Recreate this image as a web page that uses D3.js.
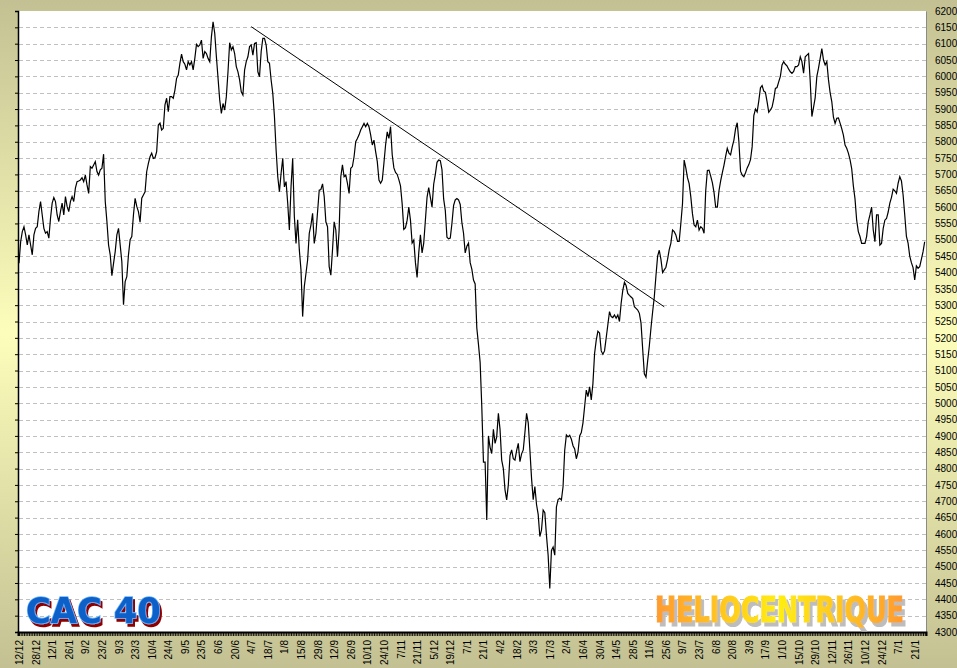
<!DOCTYPE html>
<html><head><meta charset="utf-8">
<script src="https://cdn.jsdelivr.net/npm/d3@7"></script>
<style>html,body{margin:0;padding:0;overflow:hidden;background:#c3c193}svg{display:block}</style>
</head><body>
<svg id="chart" width="957" height="668"></svg>
<script>
// ---- DATA ----
const dateLabels = ["12/12","28/12","12/1","26/1","9/2","23/2","9/3","23/3","10/4","24/4",
  "9/5","23/5","6/6","20/6","4/7","18/7","1/8","15/8","29/8","12/9",
  "26/9","10/10","24/10","7/11","21/11","5/12","19/12","7/1","21/1","4/2",
  "18/2","3/3","17/3","2/4","16/4","30/4","14/5","28/5","11/6","25/6",
  "9/7","23/7","6/8","20/8","3/9","17/9","1/10","15/10","29/10","12/11",
  "26/11","10/12","24/12","7/1","21/1"];
const labelStep = 10; // trading days between two date labels

// daily closes, one row per two-week label period
const closes = [
 5428,5494,5525,5540,5515,5484,5515,5484,5454,5515,
 5535,5540,5586,5617,5576,5535,5520,5525,5505,5566,
 5612,5629,5617,5576,5556,5586,5612,5576,5632,5602,
 5586,5617,5632,5617,5658,5678,5680,5683,5690,5678,
 5698,5668,5642,5724,5719,5729,5739,5709,5698,5714,
 5719,5762,5617,5556,5484,5454,5390,5428,5464,5515,
 5535,5484,5433,5301,5372,5387,5454,5500,5510,5576,
 5627,5602,5586,5554,5627,5637,5647,5709,5734,5754,
 5765,5749,5751,5770,5851,5857,5836,5841,5913,5933,
 5892,5938,5938,5933,5958,5994,6004,6040,6068,6045,
 6037,6020,6045,6035,6045,6020,6055,6098,6091,6096,
 6111,6055,6076,6070,6055,6045,6121,6167,6132,6060,
 5994,5928,5887,5917,5897,5938,6014,6103,6081,6091,
 6070,6030,6014,5989,5953,5943,6019,6045,6060,6091,
 6096,6065,6101,6103,6014,5999,6076,6116,6116,6096,
 6045,6040,5989,5948,5877,5775,5693,5647,5703,5749,
 5662,5678,5612,5530,5662,5749,5571,5489,5561,5469,
 5408,5265,5357,5397,5438,5520,5545,5581,5489,5520,
 5586,5652,5654,5671,5632,5555,5540,5418,5392,5469,
 5555,5530,5448,5530,5693,5729,5693,5698,5673,5642,
 5719,5724,5754,5800,5810,5821,5836,5846,5856,5846,
 5856,5846,5821,5790,5805,5770,5739,5683,5673,5683,
 5734,5790,5830,5810,5846,5760,5720,5706,5700,5684,
 5665,5610,5532,5537,5560,5600,5560,5490,5499,5430,
 5385,5460,5515,5460,5490,5560,5630,5660,5630,5600,
 5670,5700,5737,5744,5742,5715,5625,5590,5508,5503,
 5505,5550,5605,5622,5626,5622,5608,5553,5520,5460,
 5480,5490,5430,5410,5377,5365,5230,5180,5125,4990,
 4820,4820,4643,4900,4865,4846,4920,4877,4897,4969,
 4920,4826,4800,4735,4704,4750,4840,4857,4830,4826,
 4855,4877,4821,4845,4857,4910,4969,4940,4857,4770,
 4705,4745,4690,4660,4592,4612,4673,4665,4595,4535,
 4433,4550,4560,4535,4683,4705,4709,4704,4745,4857,
 4903,4897,4902,4890,4870,4860,4830,4850,4900,4910,
 4940,4990,5040,5020,5050,5010,5060,5152,5193,5220,
 5215,5160,5150,5160,5200,5240,5280,5265,5262,5270,
 5260,5270,5250,5305,5345,5370,5360,5336,5330,5325,
 5320,5295,5290,5285,5275,5245,5165,5090,5080,5130,
 5175,5230,5280,5325,5390,5450,5468,5440,5400,5408,
 5416,5440,5470,5490,5530,5525,5515,5495,5495,5550,
 5610,5744,5720,5690,5672,5632,5580,5545,5540,5560,
 5530,5540,5535,5520,5650,5712,5713,5695,5675,5645,
 5600,5600,5650,5680,5705,5728,5755,5780,5765,5760,
 5785,5805,5840,5858,5800,5710,5698,5693,5705,5720,
 5730,5745,5785,5880,5900,5891,5925,5965,5972,5955,
 5951,5922,5890,5897,5906,5930,5963,5966,5983,6000,
 6035,6045,6037,6032,6022,6014,6009,6015,6030,6030,
 6035,6060,6045,6010,6060,6065,6070,5985,5877,5905,
 5935,6000,6025,6055,6085,6050,6035,6045,5990,5950,
 5923,5875,5856,5872,5873,5857,5840,5820,5790,5780,
 5765,5745,5718,5665,5625,5560,5525,5510,5489,5489,
 5489,5510,5555,5576,5600,5530,5494,5576,5576,5484,
 5489,5535,5560,5565,5585,5612,5630,5655,5650,5642,
 5673,5693,5680,5637,5575,5510,5490,5450,5430,5415,
 5377,5420,5413,5418,5440,5463,5494
];
// resistance line: [trading day, level]
const trendline = [[140, 6152], [389, 5295]];
const yTicks = d3.range(4300, 6201, 50);
const yMin = 4300, yMax = 6200;

// ---- DRAW ----
const svg = d3.select("#chart");
const defs = svg.append("defs");
const bg = defs.append("linearGradient").attr("id","bg").attr("x1",0).attr("y1",0).attr("x2",0).attr("y2",1);
bg.append("stop").attr("offset","0%").attr("stop-color","#c3c193");
bg.append("stop").attr("offset","50%").attr("stop-color","#fdfdbb");
bg.append("stop").attr("offset","100%").attr("stop-color","#c3c193");
const hg = defs.append("linearGradient").attr("id","helio").attr("x1",0).attr("y1",0).attr("x2",1).attr("y2",0);
hg.append("stop").attr("offset","0%").attr("stop-color","#ff9a30");
hg.append("stop").attr("offset","50%").attr("stop-color","#ffee10");
hg.append("stop").attr("offset","100%").attr("stop-color","#ff9a30");

function shadowFilter(id, color, dx, dy) {
  const f = defs.append("filter").attr("id", id).attr("x","-10%").attr("y","-30%").attr("width","130%").attr("height","170%");
  f.append("feOffset").attr("in","SourceAlpha").attr("dx",dx).attr("dy",dy).attr("result","off");
  f.append("feFlood").attr("flood-color",color).attr("result","col");
  f.append("feComposite").attr("in","col").attr("in2","off").attr("operator","in").attr("result","sh");
  const m = f.append("feMerge");
  m.append("feMergeNode").attr("in","sh");
  m.append("feMergeNode").attr("in","SourceGraphic");
}
shadowFilter("redShadow", "#8e0000", 2.5, 2.5);
shadowFilter("grayShadow", "#bdbdbd", 4, 4);

svg.append("rect").attr("width",957).attr("height",668).attr("fill","url(#bg)");

const L = 18, R = 926, T = 11, B = 632;
const x = d3.scaleLinear().domain([-0.6, 546.8]).range([L, R]);
const y = d3.scaleLinear().domain([yMin, yMax]).range([B, T]);

svg.append("rect").attr("x",L).attr("y",T).attr("width",R-L).attr("height",B-T).attr("fill","#fff");

// grid
svg.append("g").selectAll("line").data(yTicks.filter(v=>v>yMin && v<yMax)).join("line")
  .attr("x1",L+1).attr("x2",R).attr("y1",d=>Math.round(y(d))+0.5).attr("y2",d=>Math.round(y(d))+0.5)
  .attr("stroke","#c0c0c0").attr("stroke-dasharray","4,3");

// left axis (ticks only)
const gl = svg.append("g").attr("transform",`translate(${L},0)`)
  .call(d3.axisLeft(y).tickValues(yTicks).tickSize(3).tickFormat(""));
gl.select(".domain").attr("stroke","#000").attr("stroke-width",1.5);

// right axis labels
const gr = svg.append("g").attr("transform",`translate(${R},0)`)
  .call(d3.axisRight(y).tickValues(yTicks).tickSize(0).tickPadding(9).tickFormat(d3.format("d")));
gr.select(".domain").attr("stroke","#8a8a8a");
gr.selectAll("text").attr("font-family","Liberation Sans, Arial, sans-serif").attr("font-size",10).attr("fill","#000");

// bottom axis: one tick per trading day
const gb = svg.append("g").attr("transform",`translate(0,${B})`)
  .call(d3.axisBottom(x).tickValues(d3.range(0, closes.length)).tickSize(4).tickFormat(""));
gb.select(".domain").attr("stroke","#000").attr("stroke-width",2);
gb.selectAll(".tick line").attr("stroke","#000").attr("stroke-width",0.9);

// date labels
const gd = svg.append("g").attr("transform",`translate(0,${B})`)
  .call(d3.axisBottom(x).tickValues(dateLabels.map((_,i)=>i*labelStep)).tickSize(0).tickFormat((d,i)=>dateLabels[i]));
gd.select(".domain").remove();
gd.selectAll("text").attr("transform","rotate(-90)").attr("text-anchor","end")
  .attr("x",-8).attr("y",0).attr("dy","0.35em")
  .attr("font-family","Liberation Sans, Arial, sans-serif").attr("font-size",10).attr("fill","#000");

// price line
const line = d3.line().x((d,i)=>x(i)).y(d=>y(d));
svg.append("path").datum(closes).attr("d",line).attr("fill","none").attr("stroke","#000").attr("stroke-width",1.2);

// resistance line
svg.append("path").datum(trendline).attr("d",d3.line().x(d=>x(d[0])).y(d=>y(d[1])))
  .attr("fill","none").attr("stroke","#000").attr("stroke-width",1);

// logos (fitted to width by a horizontal scale)
function fitText(sel, x0, y0, width) {
  const w = sel.node().getComputedTextLength();
  const k = width / w;
  sel.attr("transform", `translate(${x0},${y0}) scale(${k},1)`);
}
const cac = svg.append("text").attr("x",0).attr("y",0).attr("filter","url(#redShadow)")
  .attr("font-family","DejaVu Sans, sans-serif").attr("font-weight","bold").attr("font-size",36)
  .attr("fill","#0a60c8").attr("stroke","#6cb4ff").attr("stroke-width",1.6).attr("paint-order","stroke")
  .text("CAC 40");
fitText(cac, 26, 623, 135);

const hel = svg.append("text").attr("x",0).attr("y",0).attr("filter","url(#grayShadow)")
  .attr("font-family","Liberation Sans Narrow, DejaVu Sans Condensed, sans-serif").attr("font-weight","bold").attr("font-size",36)
  .attr("fill","url(#helio)").attr("stroke","url(#helio)").attr("stroke-width",1.2)
  .text("HELIOCENTRIQUE");
fitText(hel, 655, 622, 249);
</script>
</body></html>
